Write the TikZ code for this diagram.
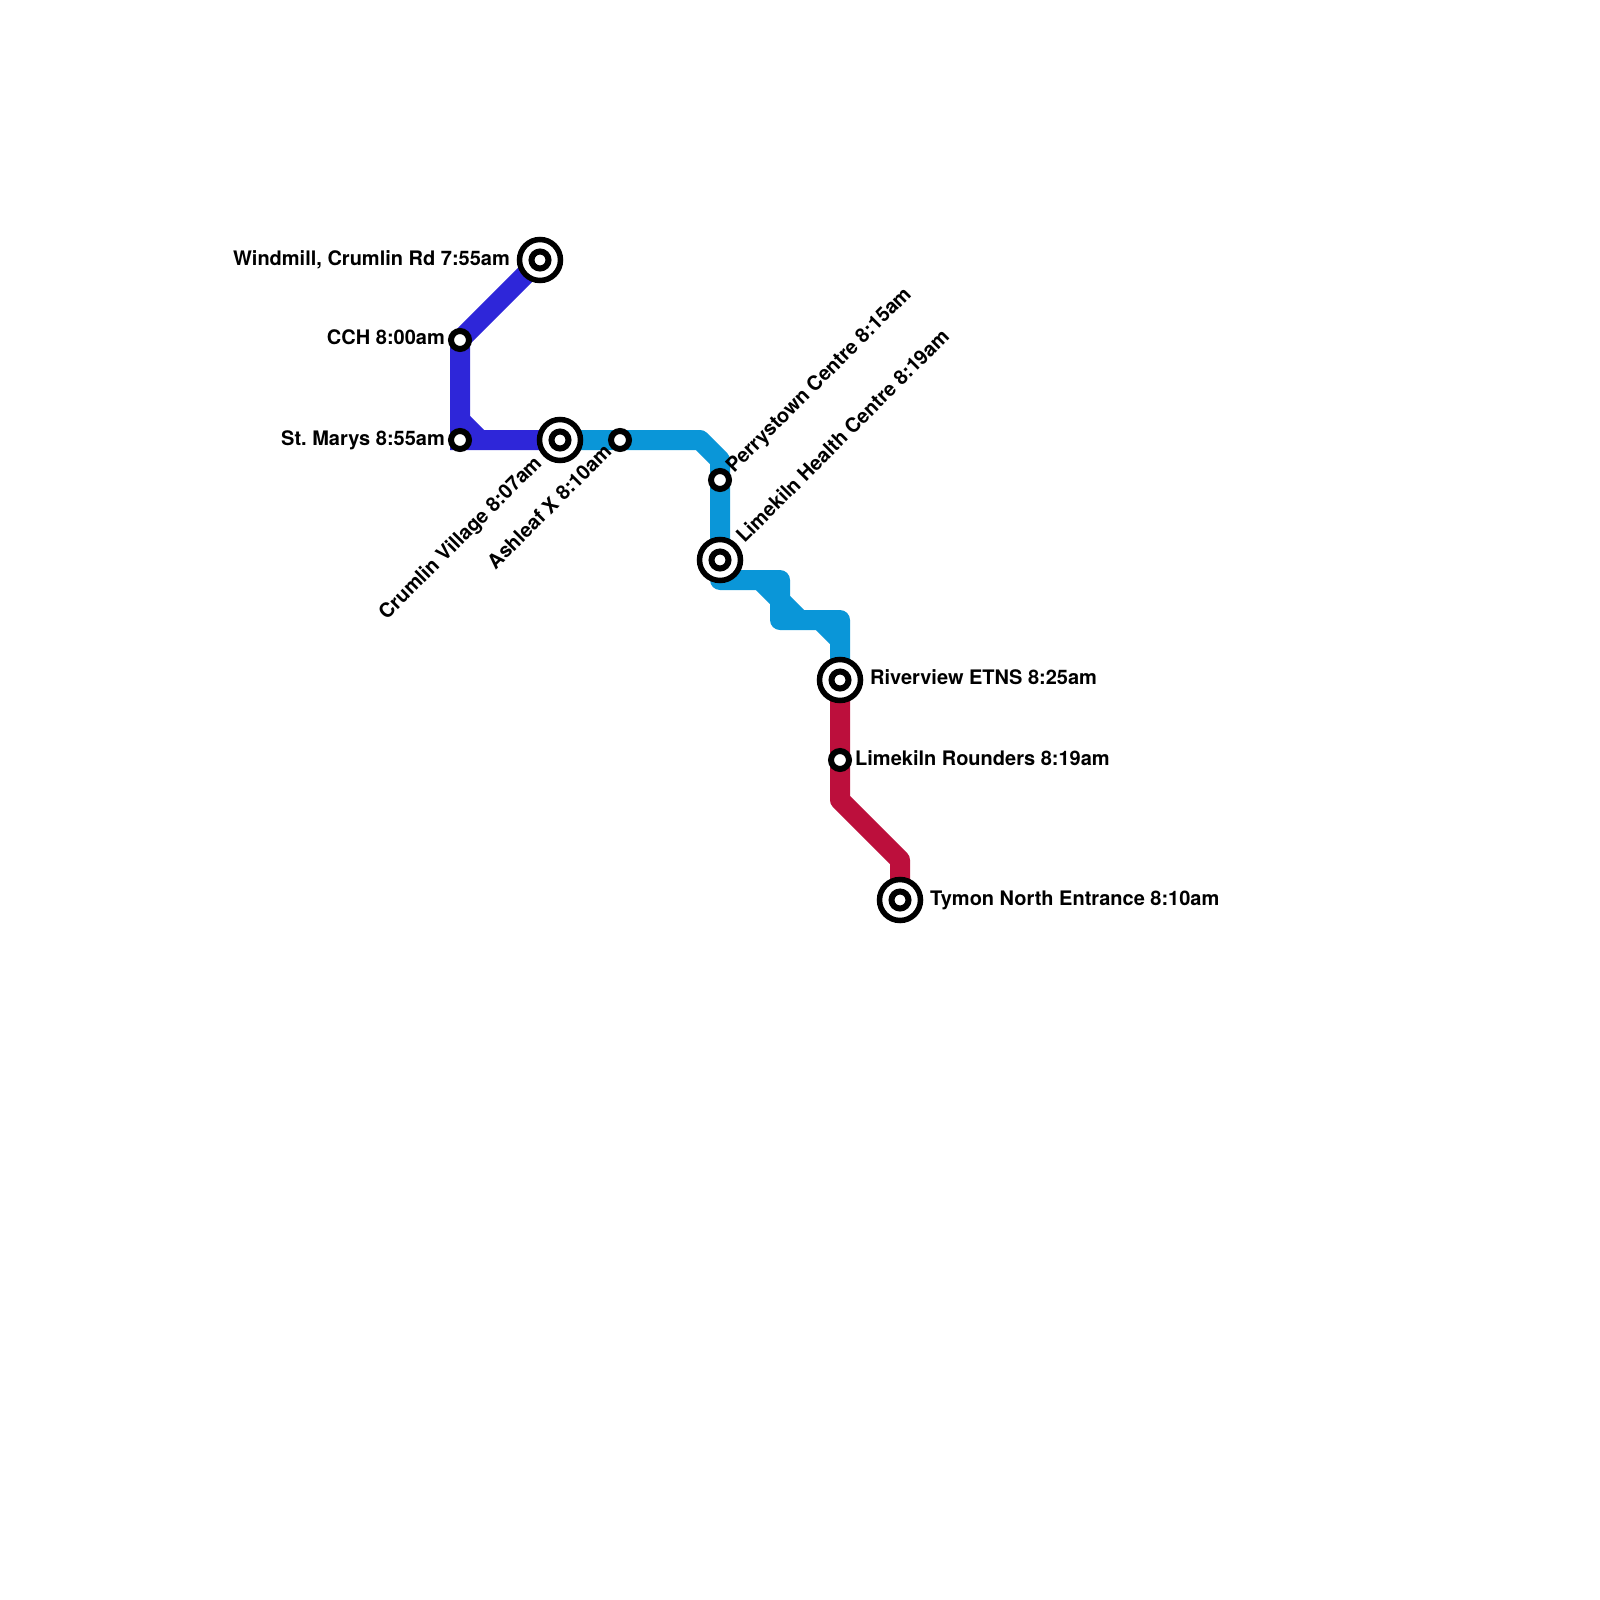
\documentclass[tikz,border=0pt]{standalone}
\usepackage{fontspec}
\setmainfont{TeX Gyre Heros}
\frenchspacing
\definecolor{lineA}{HTML}{2E26D9}
\definecolor{lineB}{HTML}{0A96D8}
\definecolor{lineC}{HTML}{BC0F3C}
\tikzset{
  route/.style={line width=20pt,line join=round,line cap=round},
  minor/.style={circle,draw=black,fill=white,line width=6pt,minimum size=18pt,inner sep=0pt,outer sep=0pt},
  major/.style={circle,draw=black,fill=white,line width=5.5pt,minimum size=41pt,inner sep=0pt,outer sep=0pt},
  hub/.style={circle,draw=black,fill=white,line width=6pt,minimum size=17pt,inner sep=0pt,outer sep=0pt},
  lbl/.style={font=\fontsize{20}{22}\selectfont\bfseries,inner sep=0pt,text=black,text height=15pt,text depth=4pt}
}
\begin{document}
\begin{tikzpicture}[x=1pt,y=-1pt]
\useasboundingbox (0,0) rectangle (1600,1600);
% station positions and bends
\coordinate (windmill) at (540,260);
\coordinate (cch) at (460,340);
\coordinate (marys) at (460,440);
\coordinate (crumlin) at (560,440);
\coordinate (ashleaf) at (620,440);
\coordinate (perrys) at (720,480);
\coordinate (limekiln) at (720,560);
\coordinate (river) at (840,680);
\coordinate (rounders) at (840,760);
\coordinate (tymon) at (900,900);
\coordinate (a1) at (460,420);
\coordinate (a2) at (480,440);
\coordinate (b1) at (700,440);
\coordinate (b2) at (720,460);
\coordinate (b3) at (720,580);
\coordinate (b4) at (780,580);
\coordinate (b5) at (780,620);
\coordinate (b6) at (840,620);
\coordinate (b7) at (760,580);
\coordinate (b8) at (800,620);
\coordinate (b9) at (820,620);
\coordinate (b10) at (840,640);
\coordinate (c1) at (840,800);
\coordinate (c2) at (900,860);
% routes
\draw[route,lineC] (river) -- (rounders) -- (c1) -- (c2) -- (tymon);
\draw[route,lineB] (crumlin) -- (ashleaf) -- (b1) -- (b2) -- (perrys) -- (limekiln) -- (b3) -- (b4) -- (b5) -- (b6) -- (river);
\draw[route,lineB,line cap=butt] (b7) -- (b8);
\draw[route,lineB,line cap=butt] (b9) -- (b10);
\draw[route,lineA,line cap=butt,line join=miter] (windmill) -- (cch) -- (marys) -- (crumlin);
\draw[route,lineA,line cap=butt] (a1) -- (a2);
% stations
\node[major] (windmillO) at (windmill) {}; \node[hub] (windmillI) at (windmill) {};
\node[major] (crumlinO) at (crumlin) {}; \node[hub] (crumlinI) at (crumlin) {};
\node[major] (limekilnO) at (limekiln) {}; \node[hub] (limekilnI) at (limekiln) {};
\node[major] (riverO) at (river) {}; \node[hub] (riverI) at (river) {};
\node[major] (tymonO) at (tymon) {}; \node[hub] (tymonI) at (tymon) {};
\node[minor] (cchS) at (cch) {};
\node[minor] (marysS) at (marys) {};
\node[minor] (ashleafS) at (ashleaf) {};
\node[minor] (perrysS) at (perrys) {};
\node[minor] (roundersS) at (rounders) {};
% labels
\node[lbl,anchor=east] (l1) at (510,259.7) {Windmill, Crumlin Rd 7:55am};
\node[lbl,anchor=east] (l2) at (445,339.4) {CCH 8:00am};
\node[lbl,anchor=east] (l3) at (445,439.8) {St. Marys 8:55am};
\node[lbl,anchor=east,rotate=45] (l4) at (539,460.5) {Crumlin Village 8:07am};
\node[lbl,anchor=east,rotate=45] (l5) at (609,449) {Ashleaf X 8:10am};
\node[lbl,anchor=west,rotate=45] (l6) at (730,470) {Perrystown Centre 8:15am};
\node[lbl,anchor=west,rotate=45] (l7) at (740.5,540) {Limekiln Health Centre 8:19am};
\node[lbl,anchor=west] (l8) at (870,679.4) {Riverview ETNS 8:25am};
\node[lbl,anchor=west] (l9) at (855,759.7) {Limekiln Rounders 8:19am};
\node[lbl,anchor=west] (l10) at (930,899.7) {Tymon North Entrance 8:10am};
\end{tikzpicture}
\end{document}
